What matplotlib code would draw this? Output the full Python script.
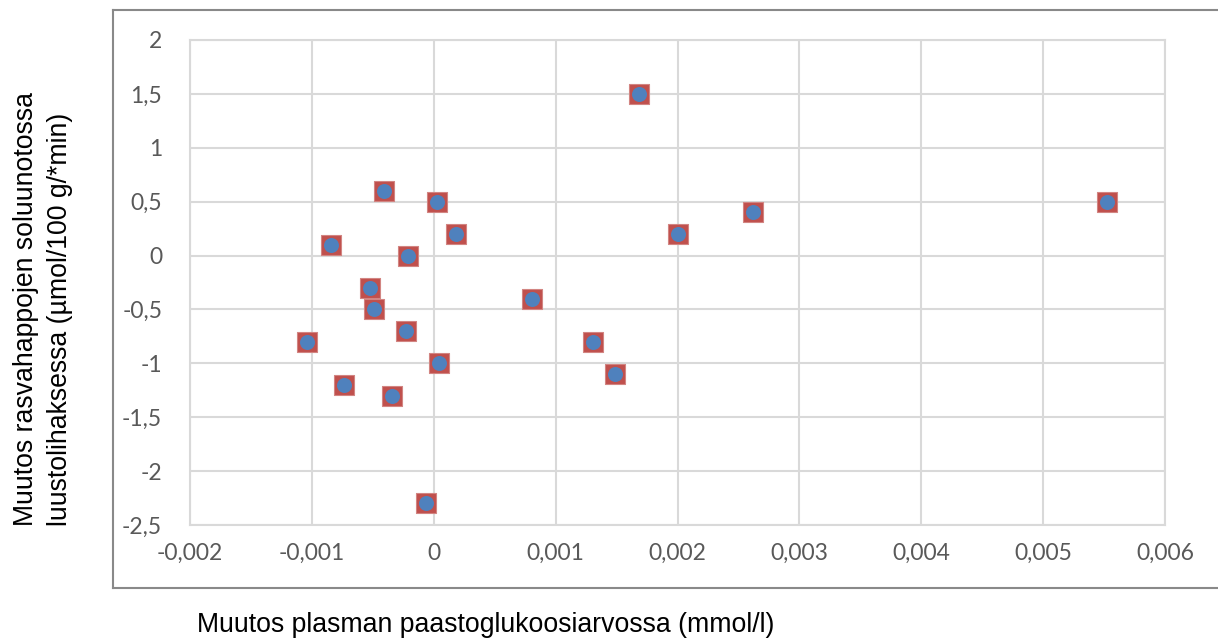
import matplotlib.pyplot as plt
from matplotlib.lines import Line2D
from matplotlib.ticker import FuncFormatter

# Muutos plasman paastoglukoosiarvossa (x) ja rasvahappojen soluunotossa (y)
x = [0.00168, 0.00552, -0.00041, 0.00003, 0.00018, -0.00084, -0.00021,
     -0.00052, -0.00049, -0.00023, -0.00104, -0.00074, -0.00034, 0.00004,
     -0.00006, 0.00081, 0.00131, 0.00149, 0.00200, 0.00262]
y = [1.5, 0.5, 0.6, 0.5, 0.2, 0.1, 0.0,
     -0.3, -0.5, -0.7, -0.8, -1.2, -1.3, -1.0,
     -2.3, -0.4, -0.8, -1.1, 0.2, 0.4]

xticks = [-0.002, -0.001, 0, 0.001, 0.002, 0.003, 0.004, 0.005, 0.006]
yticks = [-2.5, -2, -1.5, -1, -0.5, 0, 0.5, 1, 1.5, 2]

W, H = 1218, 639
fig = plt.figure(figsize=(W / 100, H / 100), dpi=100)
ax = fig.add_axes([190 / W, (H - 525) / H, 975 / W, 485 / H])

grid_c = '#D9D9D9'
ax.scatter(x, y, marker='s', s=14.5 ** 2, color='#C0504D', edgecolors='#D28582',
           linewidths=0.8, zorder=3, clip_on=False)
ax.scatter(x, y, marker='o', s=10.8 ** 2, color='#4F81BD', linewidths=0,
           zorder=4, clip_on=False)

ax.set_xlim(-0.002, 0.006)
ax.set_ylim(-2.5, 2)
ax.set_xticks(xticks)
ax.set_yticks(yticks)


def comma(v, pos):
    if v != 0 and abs(v) < 0.01:
        s = '%.3f' % v
    else:
        s = '%g' % v
    return s.replace('.', ',')


ax.xaxis.set_major_formatter(FuncFormatter(comma))
ax.yaxis.set_major_formatter(FuncFormatter(comma))
ax.grid(True, color=grid_c, linewidth=1.5, zorder=0)
ax.set_axisbelow(True)
for sp in ax.spines.values():
    sp.set_color(grid_c)
    sp.set_linewidth(1.5)
ax.tick_params(length=0, labelsize=16.5, labelcolor='#595959')
ax.tick_params(axis='x', pad=13)
ax.tick_params(axis='y', pad=20)
for lab in ax.get_xticklabels() + ax.get_yticklabels():
    lab.set_family('Lato')

# ulkokehys
fx = lambda px: px / W
fy = lambda py: 1 - py / H
for xs, ys in [((113, 113), (10, 588)), ((113, 1230), (10, 10)), ((113, 1230), (588, 588))]:
    fig.add_artist(Line2D([fx(v) for v in xs], [fy(v) for v in ys],
                          color='#898989', linewidth=1.5, transform=fig.transFigure))

fig.text(fx(486), fy(625), 'Muutos plasman paastoglukoosiarvossa (mmol/l)',
         family='Liberation Sans', fontsize=19.2, ha='center', va='center')
fig.text(fx(43), fy(309),
         'Muutos rasvahappojen soluunotossa\nluustolihaksessa (µmol/100 g/*min)',
         family='Liberation Sans', fontsize=19.2, ha='center', va='center',
         rotation=90, multialignment='left', linespacing=1.42)

fig.savefig('out.png', dpi=100)
